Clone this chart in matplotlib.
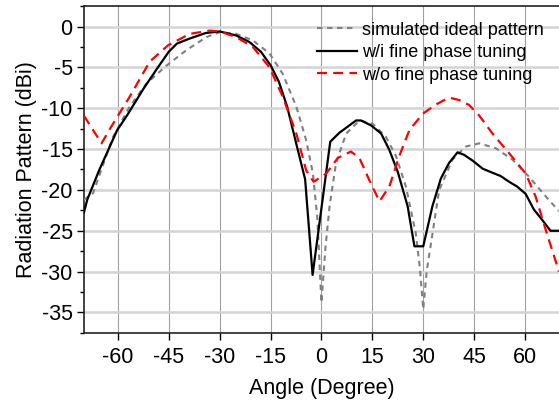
import numpy as np
from matplotlib import pyplot as plt
from matplotlib.ticker import MultipleLocator

plt.rcParams["font.family"] = ["Liberation Sans", "DejaVu Sans"]
plt.rcParams["font.size"] = 15
plt.rcParams["axes.unicode_minus"] = False

# simulated ideal pattern
sim_angle = [-70, -67.3, -61.4, -56.5, -51.6, -45.7, -39.8, -33.9, -30, -25.1, -20.2, -15.3,
             -11.4, -7.4, -4.5, -2.5, -1.2, 0, 1.2, 2.4, 4.3, 7.3, 11.2, 15.1, 19, 22, 24.9,
             27.8, 29, 30, 31, 32.3, 34.7, 38.6, 42.5, 46.5, 51.4, 56.3, 61.2, 66.1, 70]
sim_db = [-21.2, -20.4, -13.5, -9.8, -7.0, -4.8, -2.9, -1.3, -0.7, -0.9, -1.7, -3.3,
          -5.8, -9.8, -13.9, -18.0, -23.5, -33.8, -27.0, -22.0, -16.7, -13.1, -11.5, -11.9, -13.5, -15.9, -19.6,
          -25.3, -29.5, -34.6, -30.0, -26.5, -20.0, -16.3, -14.7, -14.3, -14.9, -16.3, -18.4, -20.8, -22.6]

# w/i fine phase tuning
wi_angle = [-70, -69, -65.5, -60.2, -57.3, -52.4, -48.5, -45, -42.6, -39, -34.1, -30, -25.1,
            -21.2, -17.8, -14.9, -12.5, -10.1, -7.2, -4.8, -2.6, 2.6, 5.3, 10.2, 11.7, 14.6,
            17.6, 20, 22.5, 25.4, 27.4, 30, 32.7, 35.2, 37.6, 40.1, 42, 44.5, 47.5, 50.4, 52.8,
            55.3, 57.7, 60.2, 62.6, 65.1, 67.5, 70]
wi_db = [-22.8, -21.2, -17.6, -12.7, -10.9, -7.6, -5.2, -3.1, -2.1, -1.5, -0.8, -0.6, -1.1,
         -1.9, -3.1, -4.8, -6.8, -9.8, -14.7, -18.7, -30.4, -14.1, -13.0, -11.5, -11.5, -12.1,
         -13.1, -15.1, -17.8, -22.0, -26.9, -26.9, -22.0, -18.6, -16.7, -15.4, -15.7, -16.4, -17.4, -17.9, -18.3,
         -19.0, -19.6, -20.5, -22.4, -23.7, -25.0, -25.0]

# w/o fine phase tuning
wo_angle = [-70, -64.8, -61.4, -56.5, -50.6, -45.2, -38.8, -32.9, -30, -25.1, -20.2, -15.3,
            -11.4, -7.4, -4.5, -2.3, 1.4, 4.8, 8.7, 11.2, 14.1, 17.1, 20, 22.9, 25.9, 29.8,
            33.5, 37.6, 40.6, 43.5, 46.5, 50.4, 55.3, 60.2, 63.1, 66.1, 70]
wo_db = [-10.9, -14.3, -11.9, -8.6, -4.3, -2.3, -0.9, -0.5, -0.6, -1.3, -2.5, -5.0,
         -8.6, -13.1, -17.6, -19.0, -18.0, -16.1, -15.3, -16.1, -18.8, -21.4, -19.6, -15.9, -12.7, -10.7,
         -9.6, -8.7, -9.0, -9.6, -10.9, -13.1, -15.5, -18.0, -20.8, -24.9, -30.0]

x_ticks = [-60, -45, -30, -15, 0, 15, 30, 45, 60]
y_ticks = [0, -5, -10, -15, -20, -25, -30, -35]

fig = plt.figure(figsize=(5.59, 4.05), dpi=100)
ax = fig.add_axes([0.150, 0.178, 0.85, 0.807])

ax.plot(sim_angle, sim_db, color="#808080", linestyle=(0, (2.6, 2.2)), linewidth=1.5,
        label="simulated ideal pattern", zorder=3)
ax.plot(wi_angle, wi_db, color="black", linewidth=1.6, label="w/i fine phase tuning", zorder=4)
ax.plot(wo_angle, wo_db, color="#ff0000", linestyle=(0, (4.5, 2.8)), linewidth=1.6,
        label="w/o fine phase tuning", zorder=5)

ax.set_xlim(-70, 70)
ax.set_ylim(-37.5, 2.5)
ax.set_xticks(x_ticks)
ax.set_yticks(y_ticks)
ax.yaxis.set_minor_locator(MultipleLocator(2.5))
ax.tick_params(axis="x", which="major", direction="out", length=5, width=1, pad=5, labelsize=15.5)
ax.tick_params(axis="y", which="major", direction="out", length=5, width=1, pad=3, labelsize=15.5)
ax.tick_params(axis="y", which="minor", direction="out", length=3, width=1)
ax.tick_params(axis="x", which="minor", bottom=False)

ax.xaxis.grid(True, color="#a0a0a0", linewidth=0.8)
ax.yaxis.grid(True, color="#d4d4d4", linewidth=1.8)
ax.set_axisbelow(True)

ax.spines["right"].set_visible(False)
for s in ["left", "bottom", "top"]:
    ax.spines[s].set_linewidth(1.2)
    ax.spines[s].set_color("#222222")

ax.set_xlabel("Angle (Degree)", fontsize=15.5, labelpad=7)
ax.set_ylabel("Radiation Pattern (dBi)", fontsize=15.5, labelpad=3)

ax.legend(loc="upper left", bbox_to_anchor=(0.4905, 0.952), frameon=False, fontsize=13,
          handlelength=2.2, handletextpad=0.3, labelspacing=0.3, borderpad=0,
          borderaxespad=0)

fig.savefig("out.png", dpi=100)
